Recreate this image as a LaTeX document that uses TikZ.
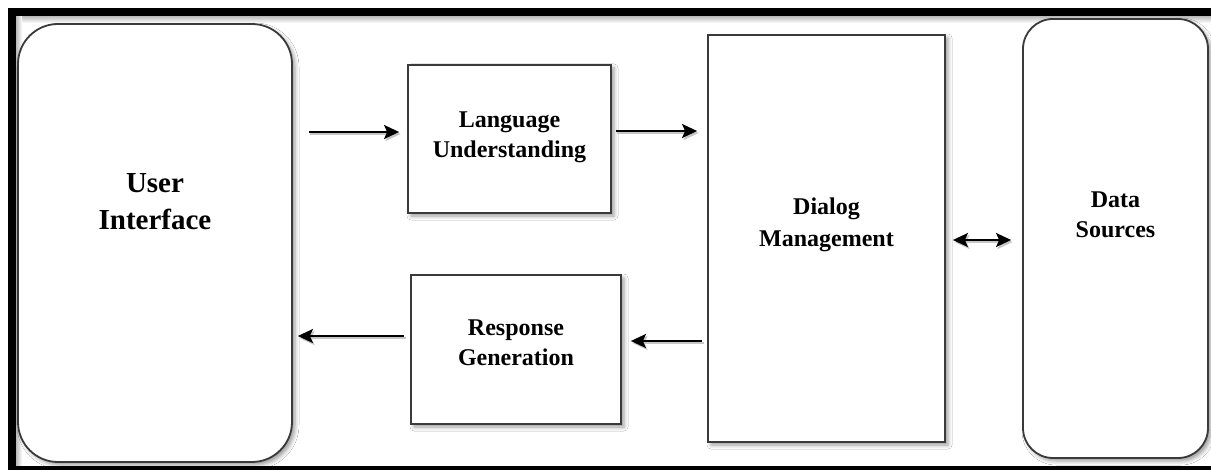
\documentclass[tikz,border=0pt]{standalone}
\usepackage{fontspec}
\setmainfont{Liberation Serif}
\usetikzlibrary{arrows.meta,shadows.blur}
\definecolor{boxline}{HTML}{3A3A3A}
\begin{document}
\begin{tikzpicture}[x=1pt,y=-1pt,
  box/.style={draw=boxline, line width=1.8pt, fill=white, inner sep=0pt,
    blur shadow={shadow xshift=3pt, shadow yshift=-3pt,
                 shadow blur radius=4pt, shadow opacity=40}},
  txt/.style={font=\bfseries\fontsize{24}{30}\selectfont, align=center, text=black},
  bigtxt/.style={font=\bfseries\fontsize{29}{37}\selectfont, align=center, text=black},
  tip/.tip={Stealth[length=15pt,width=14pt,inset=3pt]},
  arr/.style={line width=2pt, -tip,
    preaction={draw=gray!45, line width=2.5pt, transform canvas={xshift=1.5pt,yshift=-2pt}, -tip}},
  biarr/.style={line width=2pt, tip-tip,
    preaction={draw=gray!45, line width=2.5pt, transform canvas={xshift=1.5pt,yshift=-2pt}, tip-tip}},
]
\clip (0,0) rectangle (1211,470);
\fill[white] (0,0) rectangle (1211,470);

% soft inner shade along the frame
\shade[top color=gray!55, bottom color=white] (16,16) rectangle (1211,23);
\shade[left color=gray!55, right color=white] (16,16) rectangle (22,466);

% blocks
\node[box, rounded corners=40pt, minimum width=274pt, minimum height=438pt,
      label={[bigtxt, yshift=41pt]center:User\\Interface}] (ui) at (155,243) {};
\node[box, minimum width=203pt, minimum height=148pt,
      label={[txt, yshift=2pt]center:Language\\Understanding}] (lu) at (509.5,139) {};
\node[box, minimum width=210pt, minimum height=149pt,
      label={[txt, yshift=7pt]center:Response\\Generation}] (rg) at (516,349.5) {};
\node[box, minimum width=237pt, minimum height=407pt,
      label={[txt, font=\bfseries\fontsize{24}{32}\selectfont, yshift=14pt]center:Dialog\\Management}] (dm) at (826.5,238.5) {};
\node[box, rounded corners=30pt, minimum width=185pt, minimum height=439pt,
      label={[txt, yshift=24pt]center:Data\\Sources}] (ds) at (1115.5,238.5) {};

% connectors
\draw[arr, shorten <=16pt, shorten >=8pt]
  ([yshift=7pt]lu.west -| ui.east) -- ([yshift=7pt]lu.west);
\draw[arr, shorten <=4pt, shorten >=10pt]
  ([yshift=8pt]lu.east) -- ([yshift=8pt]lu.east -| dm.west);
\draw[arr, shorten <=6pt, shorten >=5pt]
  ([yshift=13.5pt]rg.west) -- ([yshift=13.5pt]rg.west -| ui.east);
\draw[arr, shorten <=5pt, shorten >=9pt]
  ([yshift=8.5pt]rg.east -| dm.west) -- ([yshift=8.5pt]rg.east);
\draw[biarr, shorten <=7pt, shorten >=11pt]
  ([yshift=-1.5pt]dm.east) -- ([yshift=-1.5pt]dm.east -| ds.west);

% outer frame
\draw[line width=8pt] (12,12) rectangle (1215,470);
\end{tikzpicture}
\end{document}
